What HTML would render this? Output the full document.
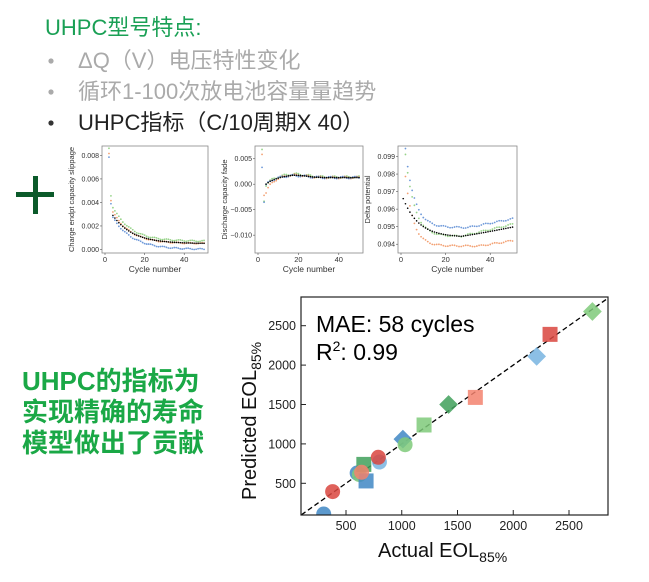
<!DOCTYPE html>
<html><head><meta charset="utf-8"><style>
body{margin:0;background:#fff;}
svg{display:block;font-family:"Liberation Sans","Noto Sans CJK SC",sans-serif;}
</style></head><body>
<svg id="s" width="649" height="582" viewBox="0 0 649 582" xmlns="http://www.w3.org/2000/svg">
<text x="45" y="35" font-size="22" fill="#1aa055">UHPC型号特点:</text>
<circle cx="51" cy="61" r="2.6" fill="#aaa"/>
<circle cx="51" cy="92" r="2.6" fill="#aaa"/>
<circle cx="51" cy="123" r="2.6" fill="#333"/>
<text x="78" y="68" font-size="22" fill="#aaa">ΔQ（V）电压特性变化</text>
<text x="78" y="99" font-size="22" fill="#aaa">循环1-100次放电池容量量趋势</text>
<text x="78" y="130" font-size="22" fill="#222">UHPC指标（C/10周期X 40）</text>
<rect x="16" y="192" width="38" height="5" fill="#0b5a2a"/>
<rect x="33" y="176" width="5" height="38" fill="#0b5a2a"/>
<g font-weight="bold" font-size="26" fill="#1aa846">
<text x="22" y="390">UHPC的指标为</text>
<text x="22" y="421">实现精确的寿命</text>
<text x="22" y="452">模型做出了贡献</text>
</g>
<g id="small" font-size="8" fill="#333"></g>
<g id="main"></g>
</svg>
<script>
const NS="http://www.w3.org/2000/svg";
function el(p,t,a,txt){const e=document.createElementNS(NS,t);for(const k in a)e.setAttribute(k,a[k]);if(txt!==undefined)e.textContent=txt;p.appendChild(e);return e;}
const sm=document.getElementById('small');
function panel(x0,x1,y0,y1,ymin,ymax,yticks,ylabel,series){
 el(sm,'rect',{x:x0,y:y0,width:x1-x0,height:y1-y0,fill:'none',stroke:'#888','stroke-width':0.8});
 const X=v=>x0+3+(v/52)*(x1-x0-3), Y=v=>y1-(v-ymin)/(ymax-ymin)*(y1-y0);
 [0,20,40].forEach(t=>{el(sm,'line',{x1:X(t),x2:X(t),y1:y1,y2:y1+2,stroke:'#555','stroke-width':0.6});el(sm,'text',{x:X(t),y:y1+9,'text-anchor':'middle','font-size':7.5},t);});
 yticks.forEach(t=>{el(sm,'line',{x1:x0-2,x2:x0,y1:Y(t[0]),y2:Y(t[0]),stroke:'#555','stroke-width':0.6});el(sm,'text',{x:x0-3,y:Y(t[0])+2.5,'text-anchor':'end','font-size':7},t[1]);});
 el(sm,'text',{x:(x0+x1)/2,y:y1+19,'text-anchor':'middle','font-size':8.5},'Cycle number');
 el(sm,'text',{transform:`translate(${x0-28},${(y0+y1)/2}) rotate(-90)`,'text-anchor':'middle','font-size':7.5},ylabel);
 series.forEach(s=>{for(let c=s.from||2;c<=50;c++){const v=s.f(c)+(Math.sin(c*7.3+s.k)*s.n);el(sm,'circle',{cx:X(c),cy:Y(v),r:s.black?0.8:0.9,fill:s.col,'fill-opacity':s.black?1:0.8});}});
}
const B='#4a7fd0',O='#f08a50',G='#7cc86a',K='#000';
panel(102,208,146,253,-0.0003,0.0088,[[0,'0.000'],[0.002,'0.002'],[0.004,'0.004'],[0.006,'0.006'],[0.008,'0.008']],'Charge endpt capacity slippage',[
 {col:G,k:1,n:0.00005,f:c=>c<4?0.0086-(c-2)*0.004:0.0007+0.0029*Math.exp(-(c-4)/9)},
 {col:O,k:2,n:0.00005,f:c=>c<4?0.0082-(c-2)*0.004:0.0005+0.0027*Math.exp(-(c-4)/9)},
 {col:B,k:3,n:0.00005,f:c=>c<4?0.0079-(c-2)*0.004:0.0000+0.0027*Math.exp(-(c-4)/10)},
 {col:K,k:4,n:0,black:1,from:4,f:c=>0.0005+0.0024*Math.exp(-(c-4)/10)}]);
panel(255,363,146,253,-0.0135,0.0075,[[0.005,'0.005'],[0,'0.000'],[-0.005,'−0.005'],[-0.01,'−0.010']],'Discharge capacity fade',[
 {col:G,k:1,n:0.0002,f:c=>c<4?0.0068-(c-2)*0.01:0.0014+0.0006*Math.exp(-Math.pow((c-18)/8,2))-0.0016*Math.exp(-(c-4)/3)},
 {col:O,k:2,n:0.0002,f:c=>c<4?0.006-(c-2)*0.008:0.0013+0.0005*Math.exp(-Math.pow((c-18)/8,2))-0.003*Math.exp(-(c-4)/3)},
 {col:B,k:3,n:0.0002,f:c=>c<4?0.0035-(c-2)*0.007:0.0013+0.0004*Math.exp(-Math.pow((c-18)/8,2))-0.0015*Math.exp(-(c-4)/3)},
 {col:K,k:4,n:0,black:1,from:4,f:c=>0.0013+0.0005*Math.exp(-Math.pow((c-18)/8,2))-0.0013*Math.exp(-(c-4)/4)}]);
panel(398,517,146,253,0.0935,0.0996,[[0.094,'0.094'],[0.095,'0.095'],[0.096,'0.096'],[0.097,'0.097'],[0.098,'0.098'],[0.099,'0.099']],'Delta potential',[
 {col:B,k:1,n:0.00004,f:c=>0.09495+0.0045*Math.exp(-(c-2)/4)+(c>30?(c-30)*0.000025:0)},
 {col:G,k:2,n:0.00004,f:c=>0.09445+0.0047*Math.exp(-(c-2)/4)+(c>27?(c-27)*0.00003:0)},
 {col:O,k:3,n:0.00004,f:c=>0.0939+0.004*Math.exp(-(c-2)/3.5)+(c>35?(c-35)*0.00002:0)},
 {col:K,k:4,n:0,black:1,from:1,f:c=>0.0944+0.0022*Math.exp(-(c-1)/7)+(c>27?(c-27)*0.000025:0)}]);

const m=document.getElementById('main');
const mx0=301,mx1=608,my0=297,my1=515;
const MX=v=>290.25+v*0.1115, MY=v=>483.3-(v-500)*0.0788;
el(m,'defs',{}).innerHTML='<clipPath id="cp"><rect x="301" y="297" width="307" height="218"/></clipPath>';
const g=el(m,'g',{'clip-path':'url(#cp)'});
el(g,'line',{x1:MX(100),y1:MY(100),x2:MX(2900),y2:MY(2900),stroke:'#000','stroke-width':1.3,'stroke-dasharray':'5,3'});
const R='#d9453e',Rl='#f3826e',Bd='#3f87c4',Bl='#78b4e0',Gd='#3fa05a',Gl='#7fca7a';
function pt(t,x,y,c,a){const cx=MX(x),cy=MY(y),s=7.5;
 if(t=='o')el(g,'circle',{cx,cy,r:s,fill:c,'fill-opacity':a||0.85});
 else if(t=='s')el(g,'rect',{x:cx-s,y:cy-s,width:2*s,height:2*s,fill:c,'fill-opacity':a||0.85});
 else el(g,'polygon',{points:`${cx},${cy-s*1.25} ${cx+s*1.25},${cy} ${cx},${cy+s*1.25} ${cx-s*1.25},${cy}`,fill:c,'fill-opacity':a||0.85});}
pt('o',300,110,Bd);pt('o',380,395,R);pt('o',600,630,Bd);pt('o',620,610,Gl);pt('s',680,530,Bd);pt('s',660,740,Gd);pt('o',640,640,Rl);
pt('o',800,770,Bl);pt('o',790,830,R);pt('d',1010,1060,Bd);pt('o',1030,990,Gl);pt('s',1200,1240,Gl);pt('d',1420,1500,Gd);pt('s',1660,1590,Rl);
pt('d',2210,2110,Bl);pt('s',2330,2390,R);pt('d',2710,2680,Gl);
el(m,'rect',{x:mx0,y:my0,width:mx1-mx0,height:my1-my0,fill:'none',stroke:'#222','stroke-width':1.2});
[500,1000,1500,2000,2500].forEach(t=>{
 el(m,'line',{x1:MX(t),x2:MX(t),y1:my1,y2:my1-5,stroke:'#222'});
 el(m,'text',{x:MX(t),y:my1+15,'text-anchor':'middle','font-size':12.5,fill:'#222'},t);
 el(m,'line',{x1:mx0,x2:mx0+5,y1:MY(t),y2:MY(t),stroke:'#222'});
 el(m,'text',{x:mx0-5,y:MY(t)+4.5,'text-anchor':'end','font-size':12.5,fill:'#222'},t);});
el(m,'text',{x:316,y:332,'font-size':23,fill:'#000'},'MAE: 58 cycles');
const r2=el(m,'text',{x:316,y:360,'font-size':23,fill:'#000'});r2.innerHTML='R<tspan dy="-9" font-size="14">2</tspan><tspan dy="9">: 0.99</tspan>';
const xl=el(m,'text',{x:378,y:557,'font-size':20,fill:'#111'});xl.innerHTML='Actual EOL<tspan dy="5" font-size="14">85%</tspan>';
const yl=el(m,'text',{transform:'translate(256,500) rotate(-90)','font-size':20,fill:'#111'});yl.innerHTML='Predicted EOL<tspan dy="5" font-size="14">85%</tspan>';
</script>
</body></html>
